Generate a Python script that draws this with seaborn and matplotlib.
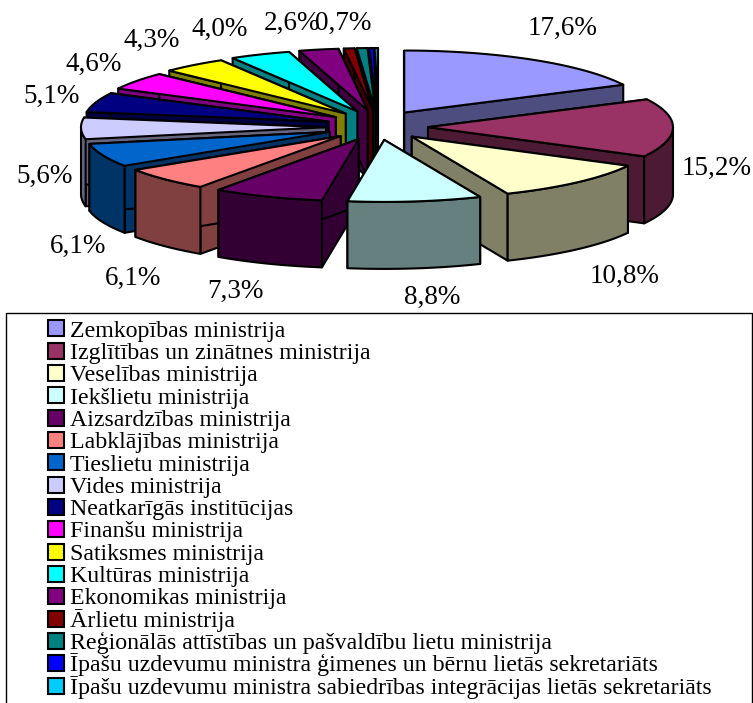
import numpy as np
import seaborn as sns
import matplotlib
matplotlib.use("Agg")
import matplotlib.pyplot as plt
from matplotlib.patches import Polygon, Rectangle, Patch
from matplotlib.legend_handler import HandlerPatch

# ---------- data ----------
categories = [
    "Zemkopības ministrija", "Izglītības un zinātnes ministrija", "Veselības ministrija",
    "Iekšlietu ministrija", "Aizsardzības ministrija", "Labklājības ministrija",
    "Tieslietu ministrija", "Vides ministrija", "Neatkarīgās institūcijas",
    "Finanšu ministrija", "Satiksmes ministrija", "Kultūras ministrija",
    "Ekonomikas ministrija", "Ārlietu ministrija",
    "Reģionālās attīstības un pašvaldību lietu ministrija",
    "Īpašu uzdevumu ministra ģimenes un bērnu lietās sekretariāts",
    "Īpašu uzdevumu ministra sabiedrības integrācijas lietās sekretariāts",
]
values = [17.6, 15.2, 10.8, 8.8, 7.3, 6.1, 6.1, 5.6, 5.1, 4.6, 4.3, 4.0, 2.6, 0.7, 0.7, 0.3, 0.2]
colors = ["#9999FF", "#993366", "#FFFFCC", "#CCFFFF", "#660066", "#FF8080", "#0066CC", "#CCCCFF",
          "#000080", "#FF00FF", "#FFFF00", "#00FFFF", "#800080", "#800000", "#008080", "#0000FF", "#00CCFF"]
shown_labels = ["17,6%", "15,2%", "10,8%", "8,8%", "7,3%", "6,1%", "6,1%", "5,6%",
                "5,1%", "4,6%", "4,3%", "4,0%", "2,6%", "0,7%"]

# ---------- layout ----------
label_xy = [(563, 28), (717, 168), (625, 276), (432, 297), (235, 291), (133, 278), (78, 246),
            (45, 176), (52, 96), (94, 64), (152, 40), (220, 29), (292, 23), (343, 23)]
CX, CY, A, B = 378, 127, 245, 62
EX_X, EX_X_LEFT, EX_Y_BACK, EX_Y_FRONT = 50, 52, 17, 13
DEPTH = 67
W, H = 753, 703

sns.set_theme(style="white")
plt.rcParams["font.family"] = ["Liberation Serif", "DejaVu Serif"]
palette = sns.color_palette(colors)

fig = plt.figure(figsize=(W / 100, H / 100), dpi=100, facecolor="white")
ax = fig.add_axes([0, 0, 1, 1])
ax.set_xlim(0, W)
ax.set_ylim(H, 0)
ax.axis("off")

fractions = np.array(values) / sum(values)
ends = np.cumsum(fractions) * 2 * np.pi
starts = ends - fractions * 2 * np.pi
mids = (starts + ends) / 2
LW = 1.5


def rim(apex, t):
    return np.column_stack([apex[0] + A * np.sin(t), apex[1] - B * np.cos(t)])


for i in np.argsort(-np.cos(mids)):
    s, e, m = starts[i], ends[i], mids[i]
    ex_x = EX_X if np.sin(m) > 0 else EX_X_LEFT
    ex_y = EX_Y_BACK if np.cos(m) > 0 else EX_Y_FRONT
    apex = (CX + ex_x * np.sin(m), CY - ex_y * np.cos(m))
    side = tuple(c * 0.5 for c in palette[i])
    down = np.array([0, DEPTH])
    apex_arr = np.array(apex)
    ts = np.linspace(s, e, 60)
    arc = rim(apex, ts)
    # cut faces
    for t in (s, e):
        p = rim(apex, np.array([t]))[0]
        ax.add_patch(Polygon([apex_arr, p, p + down, apex_arr + down], closed=True,
                             facecolor=side, edgecolor="black", linewidth=LW, joinstyle="round"))
    # outer wall, only where it faces the viewer
    lo, hi = max(s, np.pi / 2), min(e, 3 * np.pi / 2)
    if hi > lo:
        tw = np.linspace(lo, hi, 60)
        wall = rim(apex, tw)
        ax.add_patch(Polygon(np.vstack([wall, (wall + down)[::-1]]), closed=True,
                             facecolor=side, edgecolor="black", linewidth=LW, joinstyle="round"))
    # top face
    ax.add_patch(Polygon(np.vstack([apex_arr, arc]), closed=True, facecolor=palette[i],
                         edgecolor="black", linewidth=LW, joinstyle="round"))

for txt, (x, y) in zip(shown_labels, label_xy):
    ax.text(x, y, txt, ha="center", va="center", fontsize=19.5, color="black")

# legend frame
ax.add_patch(Rectangle((6, 313), 746, 400, facecolor="white", edgecolor="black", linewidth=1.0, zorder=5))


def square(legend, orig_handle, xdescent, ydescent, width, height, fontsize):
    size = width
    return Rectangle((-xdescent, -ydescent + (height - size) / 2), size, size)


handles = [Patch(facecolor=c, edgecolor="black", linewidth=LW) for c in palette]
FS = 17.2
FS_PX = FS * 100 / 72
leg = ax.legend(handles, categories, loc="upper left", bbox_to_anchor=(48 / W, 1 - 317 / H),
                bbox_transform=fig.transFigure, frameon=False, fontsize=FS,
                handlelength=16 / FS_PX, handleheight=1.1, handletextpad=6 / FS_PX,
                labelspacing=-0.095, borderpad=0, borderaxespad=0,
                handler_map={Patch: HandlerPatch(patch_func=square)})
leg.set_zorder(6)
for t in leg.get_texts():
    t.set_color("black")

fig.savefig("out.png", dpi=100, facecolor="white")
